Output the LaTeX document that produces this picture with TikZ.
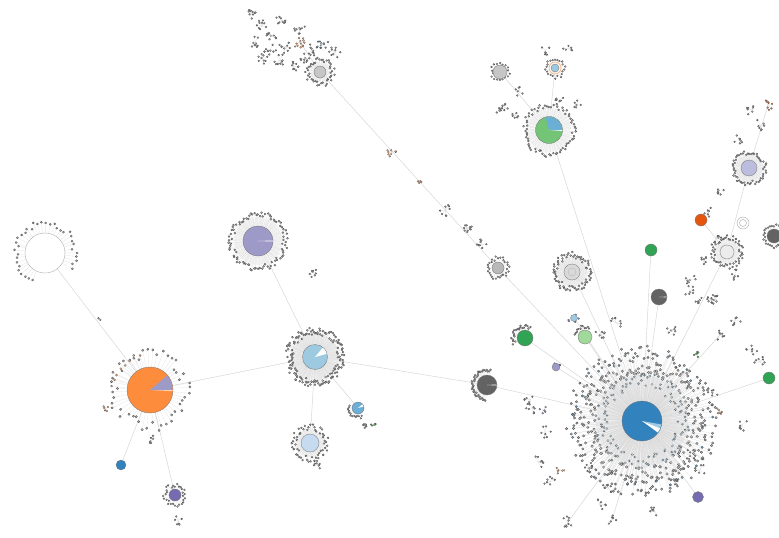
\documentclass[tikz,border=0pt]{standalone}
\usetikzlibrary{calc}
\definecolor{cBlue}{RGB}{49,130,189}
\definecolor{cLBlue}{RGB}{158,202,225}
\definecolor{cVLBlue}{RGB}{198,219,239}
\definecolor{cMBlue}{RGB}{107,174,214}
\definecolor{cOrange}{RGB}{253,141,60}
\definecolor{cPurple}{RGB}{158,154,200}
\definecolor{cLPurple}{RGB}{188,189,220}
\definecolor{cDPurple}{RGB}{117,107,177}
\definecolor{cGreen}{RGB}{49,163,84}
\definecolor{cMGreen}{RGB}{116,196,118}
\definecolor{cLGreen}{RGB}{161,217,155}
\definecolor{cRed}{RGB}{230,85,13}
\definecolor{cDGray}{RGB}{99,99,99}
\definecolor{cEdge}{RGB}{212,212,212}
\tikzset{
  edge/.style={draw=cEdge, line width=0.45pt},
  spoke/.style={draw=gray!30, line width=0.15pt},
  dot/.style={fill=gray!70, draw=gray!50!black, line width=0.2pt},
  bdot/.style={fill=cMBlue!55!gray, draw=gray!50!black, line width=0.2pt},
  odot/.style={fill=cOrange!70, draw=gray!60!black, line width=0.2pt},
  pdot/.style={fill=cPurple, draw=gray!60!black, line width=0.2pt},
  gdot/.style={fill=cMGreen, draw=gray!60!black, line width=0.2pt},
  rdot/.style={fill=cRed!80, draw=gray!60!black, line width=0.2pt},
  piebd/.style={draw=black!55, line width=0.3pt},
  halo/.style={fill=gray!12},
}
% ring of leaves: center, Rin, Rout, n, dot radius, a0, a1, style
\newcommand{\leafring}[8]{%
  \foreach \i in {1,...,#4}{%
    \pgfmathsetmacro{\myA}{#6+(#7-#6)/#4*(\i-0.5)+1.5*rand}%
    \pgfmathsetmacro{\myR}{#2+(#3-#2)*rnd}%
    \draw[spoke] (#1) -- ($(#1)+(\myA:\myR)$);
    \filldraw[#8] ($(#1)+(\myA:\myR)$) circle (#5);
  }}
% clump of tiny nodes: center, n, spread, style
\newcommand{\clump}[4]{%
  \foreach \i in {1,...,#2}{%
    \pgfmathsetmacro{\myA}{360*rnd}%
    \pgfmathsetmacro{\myR}{#3*sqrt(rnd)}%
    \draw[spoke] (#1) -- ($(#1)+(\myA:\myR)$);
    \filldraw[#4] ($(#1)+(\myA:\myR)$) circle (0.95);
  }}
\newcommand{\pie}[3]{\filldraw[fill=#3, piebd] (#1) circle (#2);}
\newcommand{\slice}[5]{\fill[#5] (#1) -- ($(#1)+(#3:#2)$) arc[start angle=#3, end angle=#4, radius=#2] -- cycle;}
\begin{document}
\begin{tikzpicture}[x=1pt,y=-1pt]
\pgfmathsetseed{7}
\fill[white] (0,0) rectangle (779,538);
\useasboundingbox (0,0) rectangle (779,538);
% hub coordinates
\coordinate (bh) at (642,421);
\coordinate (oh) at (150,390);
\coordinate (lh) at (315,357);
\coordinate (ph) at (258,241);
\coordinate (gh) at (549,130);
\coordinate (ec) at (45,253);
\coordinate (dg) at (487,385);
\coordinate (gs) at (498,268);
\coordinate (gy) at (572,272);
\coordinate (g2) at (525,338);
\coordinate (lg) at (585,337);
\coordinate (lbs) at (358,408);
\coordinate (lbsg) at (374,424);
\coordinate (lbb) at (310,443);
\coordinate (bd) at (121,465);
\coordinate (sp) at (175,495);
\coordinate (tc) at (320,72);
\coordinate (dg2) at (659,297);
\coordinate (g3) at (651,250);
\coordinate (rd) at (701,220);
\coordinate (ph2) at (749,168);
\coordinate (gh2) at (727,252);
\coordinate (re) at (774,236);
\coordinate (g4) at (769,378);
\coordinate (p5) at (698,497);
\coordinate (gr) at (500,72);
\coordinate (orr) at (555,68);
\coordinate (sw) at (743,223);
\coordinate (sp2) at (556,367);
\coordinate (lb2) at (574,318);
\coordinate (ot) at (768,105);
\coordinate (c1) at (392,152);
\coordinate (c2) at (420,183);
\coordinate (c3) at (445,210);
\coordinate (c4) at (466,228);
\coordinate (c5) at (482,245);
\coordinate (t1) at (300,42);
\coordinate (t2) at (322,44);
\coordinate (bb1) at (568,522);
\coordinate (bb2) at (612,520);
\coordinate (rr1) at (720,335);
\coordinate (rr2) at (700,300);
% edges
\draw[edge] (oh) -- (lh);
\draw[edge] (lh) -- (ph);
\draw[edge] (lh) -- (lbb);
\draw[edge] (lh) -- (dg);
\draw[edge] (lh) -- (lbs);
\draw[edge] (dg) -- (bh);
\draw[edge] (oh) -- (ec);
\draw[edge] (oh) -- (bd);
\draw[edge] (oh) -- (sp);
\draw[edge] (tc) -- (gs);
\draw[edge] (tc) -- (t1);
\draw[edge] (gs) -- (bh);
\draw[edge] (gh) -- (bh);
\draw[edge] (gh) -- (gr);
\draw[edge] (gh) -- (orr);
\draw[edge] (gy) -- (bh);
\draw[edge] (g2) -- (bh);
\draw[edge] (lg) -- (bh);
\draw[edge] (dg2) -- (bh);
\draw[edge] (g3) -- (bh);
\draw[edge] (gh2) -- (bh);
\draw[edge] (gh2) -- (ph2);
\draw[edge] (gh2) -- (rd);
\draw[edge] (ph2) -- (ot);
\draw[edge] (g4) -- (bh);
\draw[edge] (p5) -- (bh);
\draw[edge] (sp2) -- (bh);
\draw[edge] (lb2) -- (bh);
\draw[edge] (bb1) -- (bh);
\draw[edge] (bb2) -- (bh);
\draw[edge] (rr1) -- (bh);
% ---- big blue hub
\fill[halo] (bh) circle (46);
\leafring{bh}{34}{48}{130}{1.2}{0}{360}{bdot}
\leafring{bh}{46}{62}{180}{1.35}{0}{360}{dot}
\leafring{bh}{58}{76}{170}{1.25}{0}{360}{dot}
\leafring{bh}{60}{74}{40}{1.2}{0}{360}{bdot}
\pie{bh}{20}{cBlue}
\slice{bh}{19.6}{10}{22}{cLBlue}
\slice{bh}{19.6}{22}{36}{white}
% ---- orange hub
\leafring{oh}{30}{42}{48}{1.2}{0}{360}{dot}
\leafring{oh}{34}{40}{8}{1.1}{180}{260}{odot}
\pie{oh}{23}{cOrange}
\slice{oh}{22.6}{-40}{0}{cPurple}
\slice{oh}{22.6}{0}{3}{cOrange!40}
% ---- light blue hub
\fill[halo] (lh) circle (24);
\leafring{lh}{22}{30}{150}{1.05}{0}{360}{dot}
\pie{lh}{12.5}{cLBlue}
\slice{lh}{12.1}{-50}{-15}{white}
% ---- purple hub
\fill[gray!8] (ph) circle (24);
\leafring{ph}{24}{30}{90}{1.05}{0}{360}{dot}
\pie{ph}{15}{cPurple}
\slice{ph}{14.6}{-2}{2}{white}
% ---- green hub
\fill[gray!7] (gh) circle (22);
\leafring{gh}{22}{27}{70}{1.05}{0}{360}{dot}
\pie{gh}{13.5}{cMGreen}
\slice{gh}{13.1}{-105}{0}{cMBlue}
\slice{gh}{13.1}{0}{4}{white}
% ---- empty circle
\leafring{ec}{27}{33}{36}{1.1}{110}{395}{dot}
\filldraw[fill=white, draw=gray!60, line width=0.4pt] (ec) circle (20);
% ---- dark gray hub
\leafring{dg}{13}{16}{40}{1.05}{95}{285}{dot}
\pie{dg}{10}{cDGray}
\slice{dg}{9.6}{-3}{3}{white}
% ---- smaller hubs
\leafring{gs}{8}{12}{30}{0.95}{0}{360}{dot}
\pie{gs}{6}{gray!55}
\fill[gray!10] (gy) circle (15);
\leafring{gy}{14}{20}{70}{1.05}{0}{360}{dot}
\pie{gy}{8}{gray!30}
\draw[gray!60,line width=0.3pt] (gy) circle (4);
\leafring{g2}{10}{14}{22}{1.0}{150}{300}{dot}
\pie{g2}{8}{cGreen}
\leafring{lg}{9}{12}{12}{0.95}{190}{300}{dot}
\pie{lg}{7}{cLGreen}
\leafring{lbs}{8}{11}{14}{0.95}{60}{200}{dot}
\clump{lbsg}{6}{3}{gdot}
\pie{lbs}{6}{cMBlue}
\slice{lbs}{5.7}{-40}{-15}{white}
\fill[gray!10] (lbb) circle (14);
\leafring{lbb}{13}{19}{55}{1.0}{0}{360}{dot}
\pie{lbb}{9}{cVLBlue}
\pie{bd}{5}{cBlue}
\leafring{sp}{8}{12}{30}{0.95}{0}{360}{dot}
\pie{sp}{6}{cDPurple}
\fill[gray!8] (tc) circle (10);
\leafring{tc}{10}{15}{45}{1.0}{0}{360}{dot}
\pie{tc}{6}{gray!45}
\pie{dg2}{8}{cDGray}
\slice{dg2}{7.6}{-3}{3}{white}
\pie{g3}{6}{cGreen}
\pie{rd}{6}{cRed}
\fill[gray!10] (ph2) circle (14);
\leafring{ph2}{13}{18}{55}{1.0}{0}{360}{dot}
\pie{ph2}{8}{cLPurple}
\fill[gray!8] (gh2) circle (12);
\leafring{gh2}{12}{17}{55}{1.0}{0}{360}{dot}
\pie{gh2}{7}{gray!15}
\leafring{re}{9}{12}{20}{1.0}{60}{300}{dot}
\pie{re}{7}{cDGray}
\pie{g4}{6}{cGreen}
\pie{p5}{5.5}{cDPurple}
\leafring{gr}{7}{10}{18}{0.95}{0}{360}{dot}
\pie{gr}{7}{gray!45}
\leafring{orr}{8}{11}{22}{0.95}{0}{360}{dot}
\draw[cOrange!70,line width=0.6pt] (orr) circle (6);
\pie{orr}{4}{cLBlue}
\draw[gray!70,line width=0.4pt] (sw) circle (6);
\draw[gray!70,line width=0.4pt] (sw) circle (3.5);
\clump{sp2}{6}{5}{dot}
\pie{sp2}{4}{cPurple}
\clump{lb2}{8}{6}{pdot}
\pie{lb2}{3.5}{cLBlue}
% ---- clumps: top-left chain
\clump{t1}{12}{7}{odot}
\clump{t2}{12}{7}{bdot}
\foreach \px/\py in {250/14,262/26,272/36,285/47,270/50,305/58,293/66,255/42,282/20,300/28,262/58,280/60,335/52,312/50}{
  \coordinate (q) at (\px,\py); \clump{q}{9}{6}{dot}}
\clump{c1}{8}{5}{odot}
\clump{c2}{4}{3}{odot}
\clump{c3}{8}{6}{dot}
\clump{c4}{10}{6}{dot}
\clump{c5}{8}{6}{dot}
% clumps around green hub
\foreach \px/\py in {505/108,520/92,545/50,568/48,500/110,578/105,560/100,515/115}{
  \coordinate (q) at (\px,\py); \clump{q}{6}{5}{dot}}
% clumps around blue hub and right side
\foreach \px/\py in {532/408,545/432,538/462,550/482,600/505,655/512,690/455,712/392,735/320,752/350,760/362,690/292,716/300,530/400,600/335,616/323,672/330,708/212,718/190,740/140,752/110,760/125,716/238,735/275,704/262,690/280,712/300,742/425,588/468,700/470,675/482,608/488}{
  \coordinate (q) at (\px,\py); \clump{q}{7}{6}{dot}}
\clump{bb1}{9}{6}{dot}
\clump{bb2}{6}{5}{dot}
\clump{rr1}{7}{5}{dot}
\clump{rr2}{7}{5}{dot}
\clump{ot}{8}{5}{rdot}
\coordinate (q1) at (718,412); \clump{q1}{6}{5}{odot}
\coordinate (q2) at (697,355); \clump{q2}{6}{4}{gdot}
\coordinate (q3) at (560,470); \clump{q3}{6}{5}{odot}
\coordinate (q4) at (543,410); \clump{q4}{5}{4}{pdot}
% clumps near left hubs
\coordinate (q5) at (106,408); \clump{q5}{5}{4}{odot}
\coordinate (q6) at (152,440); \clump{q6}{6}{5}{dot}
\coordinate (q7) at (178,520); \clump{q7}{6}{5}{dot}
\coordinate (q8) at (312,272); \clump{q8}{8}{6}{dot}
\coordinate (q9) at (318,465); \clump{q9}{7}{5}{dot}
\coordinate (q10) at (366,425); \clump{q10}{6}{5}{dot}
\coordinate (q11) at (100,318); \clump{q11}{2}{2}{dot}
\end{tikzpicture}
\end{document}
